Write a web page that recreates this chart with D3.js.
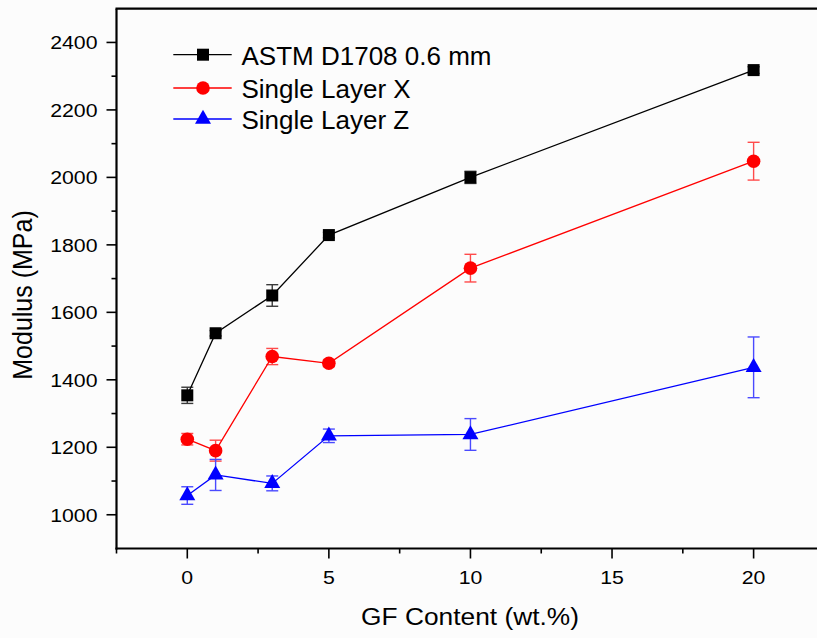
<!DOCTYPE html>
<html>
<head>
<meta charset="utf-8">
<script src="https://cdn.jsdelivr.net/npm/d3@7"></script>
<style>
  html, body { margin: 0; padding: 0; background: #fcfcfc; }
  svg { display: block; }
  text { font-family: Arial, "Liberation Sans", sans-serif; fill: #000; }
</style>
</head>
<body>
<svg id="chart" width="817" height="638"></svg>
<script>
// GF content (wt.%) of each specimen set
const gfContent = [0, 1, 3, 5, 10, 20];

// Tensile modulus (MPa) and standard deviation per series
const astmModulus = [1354, 1538, 1650, 1829, 2000, 2318];
const astmError   = [24, 8, 32, 8, 18, 10];
const layerXModulus = [1224, 1190, 1469, 1449, 1731, 2048];
const layerXError   = [17, 31, 24, 10, 41, 56];
const layerZModulus = [1057, 1118, 1093, 1234, 1238, 1437];
const layerZError   = [26, 46, 22, 20, 47, 90];

const seriesNames = ["ASTM D1708 0.6 mm", "Single Layer X", "Single Layer Z"];

const xMajorTicks = [0, 5, 10, 15, 20];
const xMinorTicks = [-2.5, 2.5, 7.5, 12.5, 17.5];
const yMajorTicks = [1000, 1200, 1400, 1600, 1800, 2000, 2200, 2400];
const yMinorTicks = [1100, 1300, 1500, 1700, 1900, 2100, 2300];

const series = [
  { name: seriesNames[0], values: astmModulus, errors: astmError, color: "#000000", errColor: "#3a3a3a", shape: "square" },
  { name: seriesNames[1], values: layerXModulus, errors: layerXError, color: "#ff0000", errColor: "#ff4a4a", shape: "circle" },
  { name: seriesNames[2], values: layerZModulus, errors: layerZError, color: "#0000ff", errColor: "#4a4aff", shape: "triangle" }
];

const svg = d3.select("#chart");
const W = 817, H = 638;
const plotLeft = 116.5, plotRight = 824.4, plotTop = 8.7, plotBottom = 548.5;

const x = d3.scaleLinear().domain([-2.5, 22.5]).range([plotLeft, plotRight]);
const y = d3.scaleLinear().domain([900, 2500]).range([plotBottom, plotTop]);

svg.append("rect").attr("width", W).attr("height", H).attr("fill", "#fcfcfc");

// Marker drawing
function marker(g, shape, color) {
  if (shape === "square") {
    g.append("rect").attr("x", -6).attr("y", -6).attr("width", 12).attr("height", 12).attr("fill", color);
  } else if (shape === "circle") {
    g.append("circle").attr("r", 6.8).attr("fill", color);
  } else {
    const h = 14, w = 16;
    g.append("path")
      .attr("d", `M0,${-2 * h / 3}L${w / 2},${h / 3}L${-w / 2},${h / 3}Z`)
      .attr("fill", color);
  }
}

const plot = svg.append("g");

series.forEach(s => {
  const pts = gfContent.map((g, i) => ({ x: g, y: s.values[i], e: s.errors[i] }));

  // error bars
  const eb = plot.append("g").attr("stroke", s.errColor).attr("stroke-width", 1.4).attr("fill", "none");
  pts.forEach(p => {
    const cx = x(p.x), y0 = y(p.y - p.e), y1 = y(p.y + p.e);
    eb.append("line").attr("x1", cx).attr("x2", cx).attr("y1", y0).attr("y2", y1);
    eb.append("line").attr("x1", cx - 6).attr("x2", cx + 6).attr("y1", y0).attr("y2", y0);
    eb.append("line").attr("x1", cx - 6).attr("x2", cx + 6).attr("y1", y1).attr("y2", y1);
  });

  // connecting line
  plot.append("path")
    .datum(pts)
    .attr("fill", "none")
    .attr("stroke", s.color)
    .attr("stroke-width", 1.3)
    .attr("d", d3.line().x(d => x(d.x)).y(d => y(d.y)));

  // markers
  pts.forEach(p => {
    const g = plot.append("g").attr("transform", `translate(${x(p.x)},${y(p.y)})`);
    marker(g, s.shape, s.color);
  });
});

// Axes
const axes = svg.append("g").attr("stroke", "#000").attr("fill", "none");
axes.append("line").attr("x1", plotLeft).attr("x2", plotLeft).attr("y1", plotTop).attr("y2", plotBottom + 1).attr("stroke-width", 2.2);
axes.append("line").attr("x1", plotLeft - 1).attr("x2", W).attr("y1", plotBottom).attr("y2", plotBottom).attr("stroke-width", 2.2);
axes.append("line").attr("x1", plotLeft - 1).attr("x2", W).attr("y1", plotTop).attr("y2", plotTop).attr("stroke-width", 2.2);

xMajorTicks.forEach(t => {
  axes.append("line").attr("x1", x(t)).attr("x2", x(t)).attr("y1", plotBottom).attr("y2", plotBottom + 10).attr("stroke-width", 1.6);
});
xMinorTicks.forEach(t => {
  axes.append("line").attr("x1", x(t)).attr("x2", x(t)).attr("y1", plotBottom).attr("y2", plotBottom + 5).attr("stroke-width", 1.6);
});
yMajorTicks.forEach(t => {
  axes.append("line").attr("x1", plotLeft - 10).attr("x2", plotLeft).attr("y1", y(t)).attr("y2", y(t)).attr("stroke-width", 1.6);
});
yMinorTicks.forEach(t => {
  axes.append("line").attr("x1", plotLeft - 5).attr("x2", plotLeft).attr("y1", y(t)).attr("y2", y(t)).attr("stroke-width", 1.6);
});

// Tick labels
const sx = 1.12;
xMajorTicks.forEach(t => {
  svg.append("text")
    .attr("transform", `translate(${x(t)},584) scale(${sx},1)`)
    .attr("text-anchor", "middle")
    .attr("font-size", 19)
    .text(t);
});
yMajorTicks.forEach(t => {
  svg.append("text")
    .attr("transform", `translate(97.5,${y(t) + 6.8}) scale(${sx},1)`)
    .attr("text-anchor", "end")
    .attr("font-size", 19)
    .text(t);
});

// Axis titles
svg.append("text")
  .attr("transform", `translate(470,625) scale(${sx},1)`)
  .attr("text-anchor", "middle")
  .attr("font-size", 23.5)
  .text("GF Content (wt.%)");

svg.append("text")
  .attr("transform", `translate(32,295) scale(${sx},1) rotate(-90)`)
  .attr("text-anchor", "middle")
  .attr("font-size", 25)
  .text("Modulus (MPa)");

// Legend
const legendRows = [54.7, 88, 119];
series.forEach((s, i) => {
  const ly = legendRows[i];
  const g = svg.append("g");
  g.append("line").attr("x1", 173.3).attr("x2", 231.7).attr("y1", ly).attr("y2", ly)
    .attr("stroke", s.color).attr("stroke-width", 1.3);
  const m = g.append("g").attr("transform", `translate(203,${ly})`);
  marker(m, s.shape, s.color);
  g.append("text").attr("x", 241.5).attr("y", ly + 10).attr("font-size", 26).text(s.name);
});
</script>
</body>
</html>
